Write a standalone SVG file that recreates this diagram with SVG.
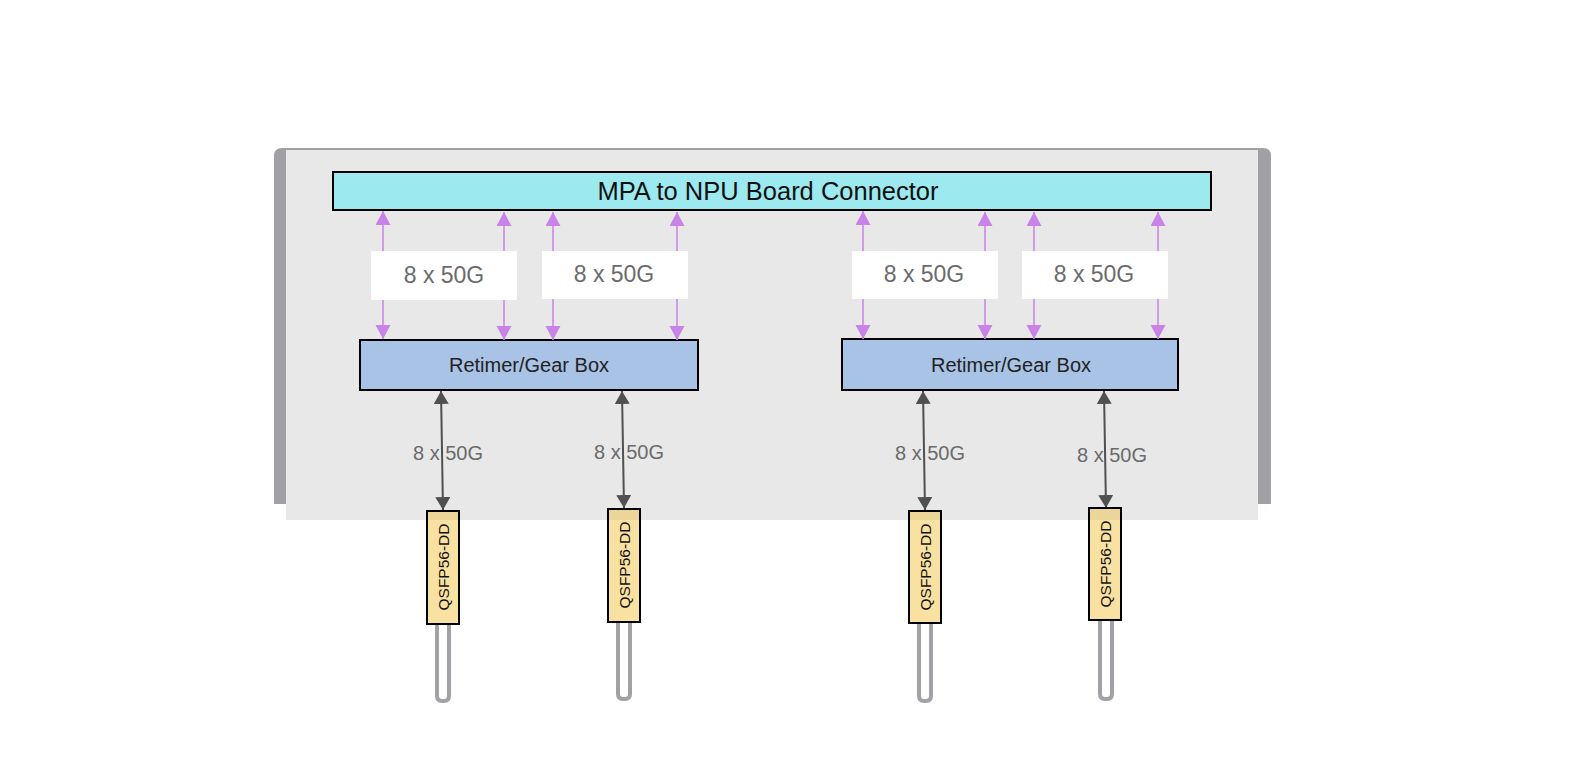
<svg xmlns="http://www.w3.org/2000/svg" width="1572" height="784" viewBox="0 0 1572 784">
<defs>
<style>
.lbl{font-family:"Liberation Sans",Arial,sans-serif;fill:#6b6b6b;text-anchor:middle}
.box{stroke:#000;stroke-width:2}
.pl{stroke:#c983e8;stroke-width:1.5;fill:none}
.dl{stroke:#505050;stroke-width:2;fill:none}
.cab{stroke:#a2a2a6;stroke-width:4;fill:#fff}
.q{fill:#f9e1a1;stroke:#000;stroke-width:2}
.qt{font-family:"Liberation Sans",Arial,sans-serif;font-size:15.5px;fill:#111;text-anchor:middle}
.rt{font-family:"Liberation Sans",Arial,sans-serif;font-size:20px;fill:#222;text-anchor:middle}
</style>
<marker id="pa" markerUnits="userSpaceOnUse" markerWidth="15" markerHeight="16" refX="14" refY="7.5" orient="auto-start-reverse" viewBox="0 0 15 16">
<path d="M0,0 L14,7.5 L0,15 z" fill="#c983e8"/>
</marker>
<marker id="da" markerUnits="userSpaceOnUse" markerWidth="14" markerHeight="16" refX="13" refY="7.5" orient="auto-start-reverse" viewBox="0 0 14 16">
<path d="M0,0 L13,7.5 L0,15 z" fill="#505050"/>
</marker>
</defs>
<rect width="1572" height="784" fill="#fff"/>
<g id="chassis">
<path d="M274,504 V156 Q274,148 282,148 H1263 Q1271,148 1271,156 V504 Z" fill="#a1a0a5"/>
<rect x="286" y="150" width="972" height="370" fill="#e8e8e8"/>
</g>
<g id="mpa">
<rect class="box" x="333" y="172" width="878" height="38" fill="#9ce9ef"/>
<text x="768" y="200" font-family="Liberation Sans,Arial,sans-serif" font-size="25.5" fill="#111" text-anchor="middle">MPA to NPU Board Connector</text>
</g>
<g id="retimer1">
<rect class="box" x="360" y="340" width="338" height="50" fill="#a9c3e6"/>
<text class="rt" x="529" y="372">Retimer/Gear Box</text>
</g>
<g id="retimer2">
<rect class="box" x="842" y="339" width="336" height="51" fill="#a9c3e6"/>
<text class="rt" x="1011" y="372">Retimer/Gear Box</text>
</g>
<g id="connectors">
<line class="pl" x1="383" y1="211" x2="383" y2="339" marker-start="url(#pa)" marker-end="url(#pa)"/>
<line class="pl" x1="504" y1="212" x2="504" y2="340" marker-start="url(#pa)" marker-end="url(#pa)"/>
<line class="pl" x1="553" y1="212" x2="553" y2="340" marker-start="url(#pa)" marker-end="url(#pa)"/>
<line class="pl" x1="677" y1="212" x2="677" y2="340" marker-start="url(#pa)" marker-end="url(#pa)"/>
<line class="pl" x1="863" y1="211" x2="863" y2="339" marker-start="url(#pa)" marker-end="url(#pa)"/>
<line class="pl" x1="985" y1="212" x2="985" y2="339" marker-start="url(#pa)" marker-end="url(#pa)"/>
<line class="pl" x1="1034" y1="212" x2="1034" y2="339" marker-start="url(#pa)" marker-end="url(#pa)"/>
<line class="pl" x1="1158" y1="212" x2="1158" y2="339" marker-start="url(#pa)" marker-end="url(#pa)"/>
<line class="dl" x1="441" y1="391" x2="443" y2="510" marker-start="url(#da)" marker-end="url(#da)"/>
<line class="dl" x1="622" y1="391" x2="624" y2="508" marker-start="url(#da)" marker-end="url(#da)"/>
<line class="dl" x1="923" y1="391" x2="925" y2="510" marker-start="url(#da)" marker-end="url(#da)"/>
<line class="dl" x1="1104" y1="391" x2="1106" y2="508" marker-start="url(#da)" marker-end="url(#da)"/>
</g>
<g id="labels">
<rect x="371" y="251" width="146" height="49" fill="#fff"/>
<text class="lbl" x="444" y="283" font-size="23">8 x 50G</text>
<rect x="542" y="251" width="146" height="48" fill="#fff"/>
<text class="lbl" x="614" y="282" font-size="23">8 x 50G</text>
<rect x="852" y="251" width="146" height="48" fill="#fff"/>
<text class="lbl" x="924" y="282" font-size="23">8 x 50G</text>
<rect x="1022" y="251" width="146" height="48" fill="#fff"/>
<text class="lbl" x="1094" y="282" font-size="23">8 x 50G</text>
<text class="lbl" x="448" y="460" font-size="20" fill="#777">8 x 50G</text>
<text class="lbl" x="629" y="459" font-size="20">8 x 50G</text>
<text class="lbl" x="930" y="460" font-size="20">8 x 50G</text>
<text class="lbl" x="1112" y="462" font-size="20">8 x 50G</text>
</g>
<g id="qsfp1">
<path class="cab" d="M437,622 V696 Q437,701 442,701 H444 Q449,701 449,696 V622"/>
<rect class="q" x="427" y="511" width="32" height="113"/>
<rect x="428" y="512" width="30" height="8" fill="#000" opacity="0.05"/>
<text class="qt" transform="translate(448.5,567) rotate(-90)">QSFP56-DD</text>
</g>
<g id="qsfp2">
<path class="cab" d="M618,620 V694 Q618,699 623,699 H625 Q630,699 630,694 V620"/>
<rect class="q" x="608" y="509" width="32" height="113"/>
<rect x="609" y="510" width="30" height="10" fill="#000" opacity="0.05"/>
<text class="qt" transform="translate(629.5,565) rotate(-90)">QSFP56-DD</text>
</g>
<g id="qsfp3">
<path class="cab" d="M919,621 V696 Q919,701 924,701 H926 Q931,701 931,696 V621"/>
<rect class="q" x="909" y="511" width="32" height="112"/>
<rect x="910" y="512" width="30" height="8" fill="#000" opacity="0.05"/>
<text class="qt" transform="translate(930.5,567) rotate(-90)">QSFP56-DD</text>
</g>
<g id="qsfp4">
<path class="cab" d="M1100,619 V694 Q1100,699 1105,699 H1107 Q1112,699 1112,694 V619"/>
<rect class="q" x="1089" y="508" width="32" height="112"/>
<rect x="1090" y="509" width="30" height="11" fill="#000" opacity="0.05"/>
<text class="qt" transform="translate(1110.5,564) rotate(-90)">QSFP56-DD</text>
</g>
</svg>
